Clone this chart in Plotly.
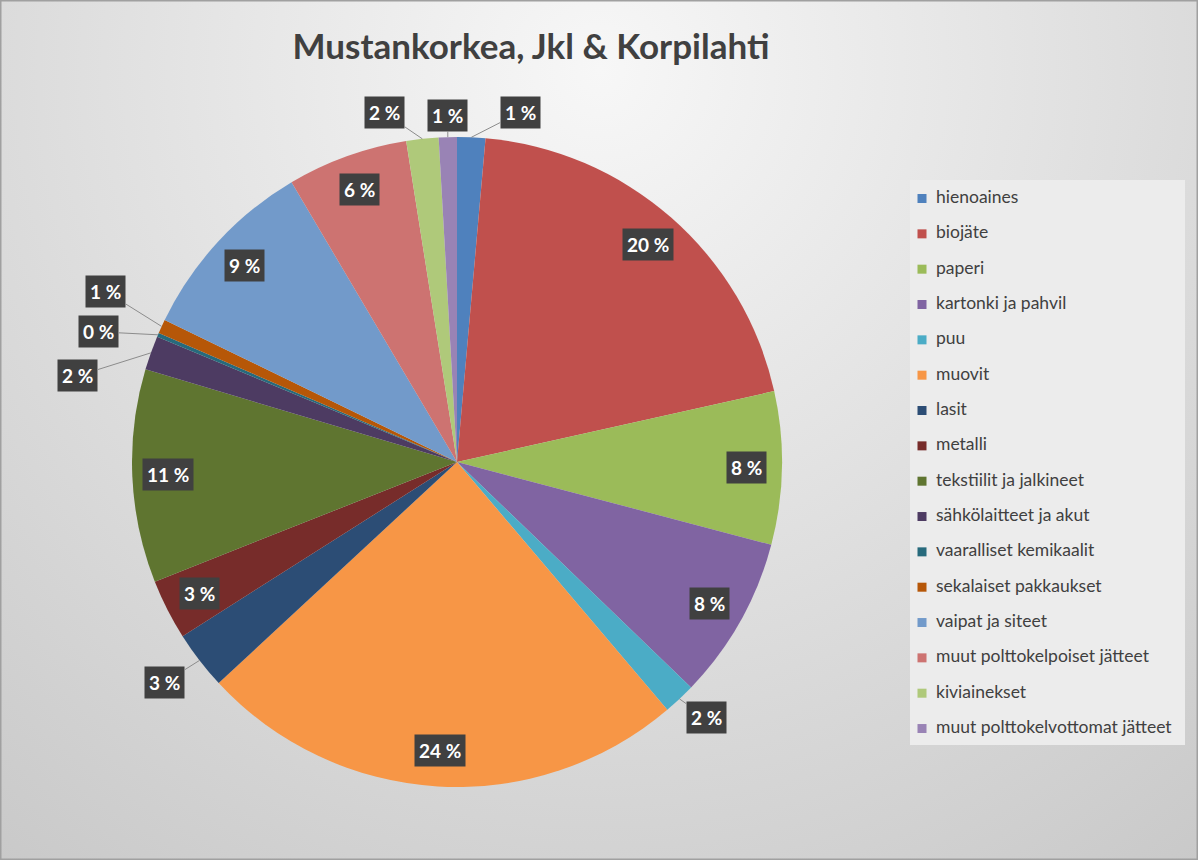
import math
import base64
import plotly.graph_objects as go

# waste composition, share of total (%)
categories = ['hienoaines', 'biojäte', 'paperi', 'kartonki ja pahvil', 'puu', 'muovit',
              'lasit', 'metalli', 'tekstiilit ja jalkineet', 'sähkölaitteet ja akut',
              'vaaralliset kemikaalit', 'sekalaiset pakkaukset', 'vaipat ja siteet',
              'muut polttokelpoiset jätteet', 'kiviainekset', 'muut polttokelvottomat jätteet']
shares = [1.4, 20.1, 7.6, 8.1, 1.6, 24.3, 2.9, 3.0, 10.6, 1.7, 0.2, 0.7, 9.3, 6.0, 1.6, 0.9]
colors = ['#4F81BD', '#C0504D', '#9BBB59', '#8064A2', '#4BACC6', '#F79646',
          '#2C4D75', '#772C2A', '#5F7530', '#4D3B62', '#276A7C', '#B65708',
          '#729ACA', '#CD7371', '#AFC97A', '#9983B5']
title_text = 'Mustankorkea, Jkl & Korpilahti'

W, H = 1198, 860
CX, CY, R = 457, 462, 325  # pie centre / radius in px

# pixel nudges for the labels drawn outside the small slices
outside_offsets = {
    'hienoaines': (49, -25),
    'puu': (27, 19),
    'lasit': (-35, 22),
    'sähkölaitteet ja akut': (-73, 23),
    'vaaralliset kemikaalit': (-59, -3),
    'sekalaiset pakkaukset': (-56, -35),
    'kiviainekset': (-38, -26),
    'muut polttokelvottomat jätteet': (0, -22),
}

total = sum(shares)
pct_labels = [f'{round(v / total * 100)} %' for v in shares]
font = 'Lato'

# soft radial background like the office chart style
bg_svg = (
    f"<svg xmlns='http://www.w3.org/2000/svg' width='{W}' height='{H}'>"
    "<defs><radialGradient id='g' gradientUnits='userSpaceOnUse' cx='600' cy='70' r='1100'>"
    "<stop offset='0' stop-color='#f7f7f7'/><stop offset='1' stop-color='#c4c4c4'/>"
    "</radialGradient></defs>"
    f"<rect width='{W}' height='{H}' fill='url(#g)'/></svg>"
)
bg_src = 'data:image/svg+xml;base64,' + base64.b64encode(bg_svg.encode()).decode()

fig = go.Figure()

fig.add_trace(go.Pie(
    labels=categories, values=shares, sort=False, direction='clockwise', rotation=0,
    marker=dict(colors=colors, line=dict(width=0)),
    textinfo='none', hoverinfo='label+percent', showlegend=False,
    domain=dict(x=[(CX - R) / W, (CX + R) / W], y=[(H - CY - R) / H, (H - CY + R) / H]),
))

# data labels in dark boxes
annotations = []
cum = 0
for name, v, txt in zip(categories, shares, pct_labels):
    mid = (cum + v / 2) / total * 2 * math.pi
    cum += v
    box = dict(text=f'<b>{txt}</b>', xref='paper', yref='paper',
               font=dict(family=font, size=19, color='white'),
               bgcolor='#404040', borderpad=4)
    if v / total >= 0.0295:
        px = CX + 0.89 * R * math.sin(mid)
        py = CY - 0.89 * R * math.cos(mid)
        box.update(x=px / W, y=1 - py / H, xanchor='center', yanchor='middle',
                   showarrow=False)
    else:
        px = CX + R * math.sin(mid)
        py = CY - R * math.cos(mid)
        ax, ay = outside_offsets[name]
        box.update(x=px / W, y=1 - py / H, showarrow=True, ax=ax, ay=ay,
                   arrowhead=0, arrowwidth=1, arrowcolor='#8c8c8c')
    annotations.append(box)

# legend drawn as a small scatter panel so the row spacing matches
n = len(categories)
fig.add_trace(go.Scatter(
    x=[0] * n, y=list(range(n)), mode='markers',
    marker=dict(symbol='square', size=9, color=colors),
    hoverinfo='skip', showlegend=False,
))
fig.add_trace(go.Scatter(
    x=[14] * n, y=list(range(n)), mode='text',
    text=categories, textposition='middle right',
    textfont=dict(family=font, size=17.5, color='#404040'),
    hoverinfo='skip', showlegend=False,
))

fig.update_layout(
    width=W, height=H,
    margin=dict(l=0, r=0, t=0, b=0),
    paper_bgcolor='#dadada',
    plot_bgcolor='rgba(0,0,0,0)',
    title=dict(text=f'<b>{title_text}</b>', x=531 / W, xanchor='center', y=1 - 47 / H,
               yanchor='middle', font=dict(family=font, size=35, color='#404040')),
    xaxis=dict(domain=[910 / W, 1185 / W], range=[-12, 263], visible=False, fixedrange=True),
    yaxis=dict(domain=[1 - 745 / H, 1 - 180 / H], range=[15.466, -0.524], visible=False,
               fixedrange=True),
    annotations=annotations,
    images=[dict(source=bg_src, xref='paper', yref='paper', x=0, y=1, sizex=1, sizey=1,
                 xanchor='left', yanchor='top', sizing='stretch', layer='below')],
    shapes=[
        # legend panel
        dict(type='rect', xref='x domain', yref='y domain', x0=0, x1=1, y0=0, y1=1,
             fillcolor='#ececec', line=dict(width=0), layer='below'),
        # chart frame
        dict(type='rect', xref='paper', yref='paper', x0=0, x1=1, y0=0, y1=1,
             line=dict(color='#a0a0a0', width=3)),
    ],
    showlegend=False,
)

# drop the default 8px page margin so the chart sits flush in the window
fig.write_html('out.html', config={'displayModeBar': False},
               post_script="document.body.style.margin='0';")
